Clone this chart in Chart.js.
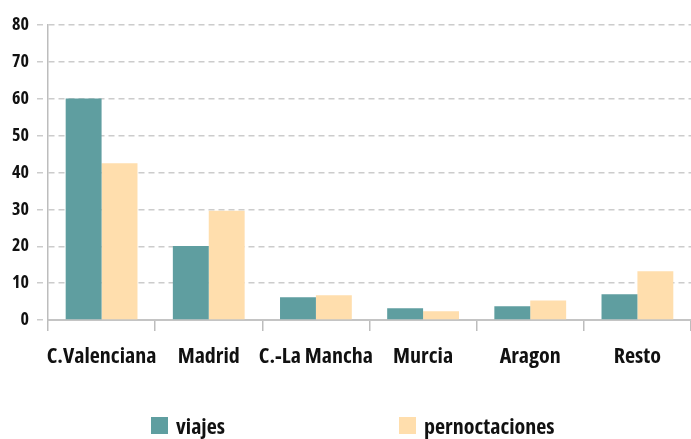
<!DOCTYPE html>
<html>
<head>
<meta charset="utf-8">
<script src="https://cdn.jsdelivr.net/npm/chart.js@4"></script>
<style>
  html, body { margin: 0; padding: 0; background: #fff; }
  #wrap { position: relative; width: 691px; height: 439px; }
  #chart { position: absolute; left: 0; top: 0; }
  .leg { position: absolute; top: 411px; height: 28px; display: flex; align-items: center;
         font-family: 'Open Sans', sans-serif; font-weight: bold; font-stretch: condensed; font-size: 22px;
         color: #111; white-space: nowrap; }
  .leg span.box { display: inline-block; width: 17px; height: 17px; margin-right: 8px; }
</style>
</head>
<body>
<div id="wrap">
  <canvas id="chart" width="691" height="439"></canvas>
  <div class="leg" id="leg0" style="left:151px"></div>
  <div class="leg" id="leg1" style="left:399px"></div>
</div>
<script>
const categories = ['C.Valenciana', 'Madrid', 'C.-La Mancha', 'Murcia', 'Aragon', 'Resto'];
const seriesNames = ['viajes', 'pernoctaciones'];
const viajes = [60.1, 20.1, 6.2, 3.2, 3.7, 7.0];
const pernoctaciones = [42.5, 29.6, 6.7, 2.4, 5.3, 13.2];
const seriesColors = ['#5f9ea0', '#ffdead'];
const yTicks = [0, 10, 20, 30, 40, 50, 60, 70, 80];

const FONT = "'Open Sans', sans-serif";
const WEIGHT = 'bold condensed';

const seriesData = [viajes, pernoctaciones];
seriesNames.forEach((name, i) => {
  const el = document.getElementById('leg' + i);
  const box = document.createElement('span');
  box.className = 'box';
  box.style.background = seriesColors[i];
  el.appendChild(box);
  el.appendChild(document.createTextNode(name));
});

new Chart(document.getElementById('chart'), {
  type: 'bar',
  data: {
    labels: categories,
    datasets: seriesNames.map((name, i) => ({
      label: name,
      data: seriesData[i],
      backgroundColor: seriesColors[i],
      borderWidth: 0,
      categoryPercentage: 0.67,
      barPercentage: 1.0
    }))
  },
  options: {
    responsive: false,
    devicePixelRatio: 1,
    animation: false,
    layout: { padding: { top: 25, right: 0, bottom: 0, left: 0 } },
    plugins: {
      legend: { display: false },
      tooltip: { enabled: false }
    },
    scales: {
      x: {
        afterFit: s => { s.height = 119; },
        grid: { display: true, drawOnChartArea: false, drawTicks: true, tickLength: 11, color: '#bdbdbd', lineWidth: 1.5, offset: true },
        border: { display: true, color: '#c4c4c4', width: 2 },
        ticks: { color: '#111', font: { family: FONT, size: 22, weight: WEIGHT }, padding: 13, maxRotation: 0, autoSkip: false }
      },
      y: {
        min: 0,
        max: 80,
        afterFit: s => { s.width = 48; },
        afterBuildTicks: s => { s.ticks = yTicks.map(v => ({ value: v })); },
        grid: { color: '#cccccc', lineWidth: 1.5, tickLength: 11, tickBorderDash: [6, 4] },
        border: { display: true, color: '#bdbdbd', width: 1.5, dash: [6, 4] },
        ticks: { color: '#111', font: { family: FONT, size: 18, weight: WEIGHT }, padding: 8 }
      }
    }
  }
});
</script>
</body>
</html>
